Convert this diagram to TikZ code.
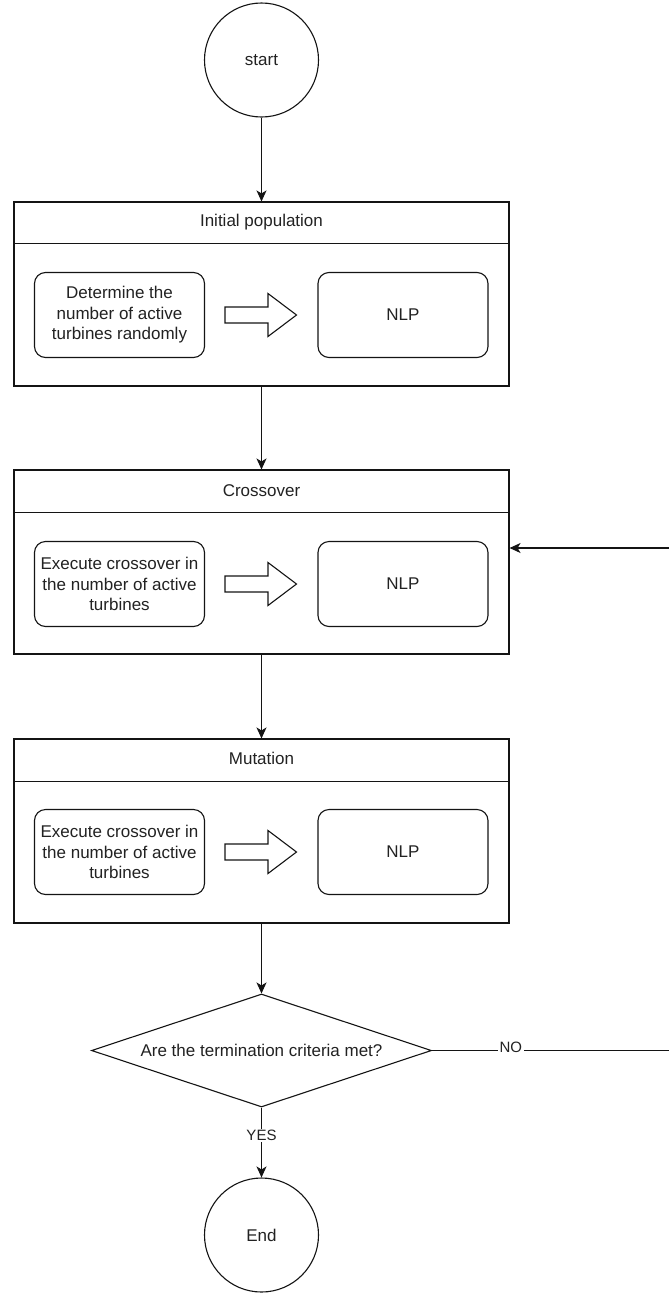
\documentclass[tikz,border=0pt]{standalone}
\usepackage{fontspec}
\setmainfont{Liberation Sans}
\usetikzlibrary{shapes.geometric,arrows.meta,calc}
\definecolor{ln}{RGB}{20,20,20}
\definecolor{txt}{RGB}{34,34,34}
\tikzset{
  harrow/.pic={
    \draw[draw=ln, line width=1.1pt, line join=miter]
      (0,-8) -- (43,-8) -- (43,-21.5) -- (71.5,0) -- (43,21.5) -- (43,8) -- (0,8) -- cycle;
  }
}
\begin{document}
\begin{tikzpicture}[x=1pt,y=-1pt, line width=1.1pt,
  every node/.style={font=\fontsize{17pt}{20.5pt}\selectfont, text=txt},
  container/.style={draw=ln, minimum width=495pt, minimum height=184pt, inner sep=0pt},
  inbox/.style={draw=ln, rounded corners=11pt, minimum width=170pt, minimum height=85pt, inner sep=0pt, align=center},
  term/.style={draw=ln, circle, minimum size=114pt, inner sep=0pt},
  decide/.style={draw=ln, diamond, aspect=3, minimum width=340pt, minimum height=113pt, inner sep=0pt},
  conn/.style={draw=ln, -{Stealth[length=11pt,width=10pt,inset=3pt]}},
  lbl/.style={fill=white, inner sep=1.5pt, font=\fontsize{15pt}{18pt}\selectfont},
  ttl/.style={inner sep=0pt},
]
\fill[white] (0,0) rectangle (669,1293);
\useasboundingbox (0,0) rectangle (669,1293);

% start / end
\node[term] (start) at (261.5,60) {start};

% Initial population
\node[container] (init) at (261.5,294) {};
\draw[draw=ln] ([yshift=-42pt]init.north west) -- ([yshift=-42pt]init.north east);
\node[ttl] (initt) at ([yshift=-21pt]init.north) {Initial population};
\node[inbox] (initl) at ($(init.center)+(-142,21)$) {Determine the\\number of active\\turbines randomly};
\node[inbox] (initr) at ($(init.center)+(141.5,21)$) {NLP};
\pic at ($(init.center)+(-36.5,21)$) {harrow};

% Crossover
\node[container] (cross) at (261.5,562) {};
\draw[draw=ln] ([yshift=-43pt]cross.north west) -- ([yshift=-43pt]cross.north east);
\node[ttl] (crosst) at ([yshift=-21pt]cross.north) {Crossover};
\node[inbox] (crossl) at ($(cross.center)+(-142,22)$) {Execute crossover in\\the number of active\\turbines};
\node[inbox] (crossr) at ($(cross.center)+(141.5,22)$) {NLP};
\pic at ($(cross.center)+(-36.5,22)$) {harrow};

% Mutation
\node[container] (mut) at (261.5,831) {};
\draw[draw=ln] ([yshift=-43pt]mut.north west) -- ([yshift=-43pt]mut.north east);
\node[ttl] (mutt) at ([yshift=-20pt]mut.north) {Mutation};
\node[inbox] (mutl) at ($(mut.center)+(-142,21)$) {Execute crossover in\\the number of active\\turbines};
\node[inbox] (mutr) at ($(mut.center)+(141.5,21)$) {NLP};
\pic at ($(mut.center)+(-36.5,21)$) {harrow};

% decision
\node[decide] (dec) at (261.5,1050.5) {Are the termination criteria met?};
\node[term] (end) at (261.5,1235) {End};

% connectors
\draw[conn] (start) -- (init);
\draw[conn] (init) -- (cross);
\draw[conn] (cross) -- (mut);
\draw[conn] (mut) -- (dec);
\draw[conn] (dec) -- node[lbl, pos=0.4] {YES} (end);
\coordinate (fbA) at (671,1050.5);
\coordinate (fbin) at ([yshift=14pt]cross.east);
\draw[conn] (dec.east) -- node[lbl, pos=0.33, yshift=3pt] {NO} (fbA) |- (fbin);
\end{tikzpicture}
\end{document}
